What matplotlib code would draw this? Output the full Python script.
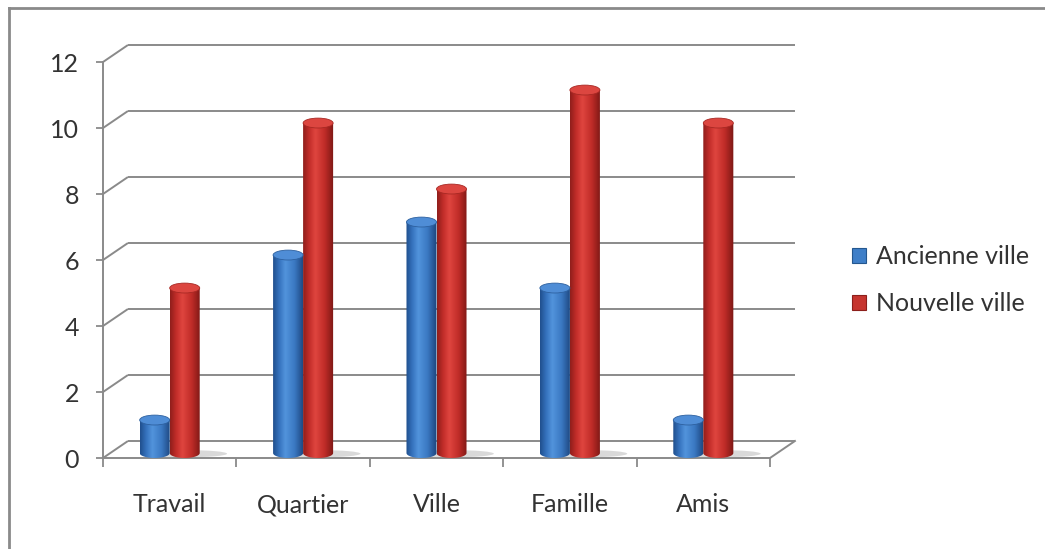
import numpy as np
import matplotlib
matplotlib.use("Agg")
import matplotlib.pyplot as plt
from matplotlib.patches import Ellipse, PathPatch, Patch
from matplotlib.path import Path
from matplotlib.colors import LinearSegmentedColormap
from matplotlib.lines import Line2D

categories = ["Travail", "Quartier", "Ville", "Famille", "Amis"]
ancienne_ville = [1, 6, 7, 5, 1]
nouvelle_ville = [5, 10, 8, 11, 10]
series_names = ["Ancienne ville", "Nouvelle ville"]
y_ticks = [0, 2, 4, 6, 8, 10, 12]

plt.rcParams["font.family"] = ["Lato", "DejaVu Sans"]
TEXT = "#333333"
GRID = "#8a8a8a"
FS = 18

fig = plt.figure(figsize=(10.45, 5.49), dpi=100)
fig.patch.set_facecolor("white")
ax = fig.add_axes([103 / 1045, 91 / 549, 667 / 1045, 396 / 549])
n = len(categories)
ax.set_xlim(0, n)
ax.set_ylim(0, 12)

# depth of the box (back wall offset) in data units
DX, DY = 0.187, 0.515

# back-wall gridlines and the diagonals joining them to the front axis
for v in y_ticks:
    ax.plot([0, DX], [v, v + DY], color=GRID, lw=1.4, clip_on=False, zorder=1,
            solid_capstyle="butt")
    ax.plot([DX, n + DX], [v + DY, v + DY], color=GRID, lw=1.4, clip_on=False,
            zorder=1, solid_capstyle="butt")
ax.plot([n, n + DX], [0, DY], color=GRID, lw=1.4, clip_on=False, zorder=1)

blue_cmap = LinearSegmentedColormap.from_list(
    "blue_cyl",
    [(0.0, "#1f4e8c"), (0.2, "#3572bd"), (0.4, "#5294dc"), (0.7, "#3a78c2"), (1.0, "#1c447c")])
red_cmap = LinearSegmentedColormap.from_list(
    "red_cyl",
    [(0.0, "#8e1e1b"), (0.2, "#c22d29"), (0.4, "#df453f"), (0.7, "#c02c28"), (1.0, "#7a1714")])

BAR_W = 0.225
BASE = 0.15
ELL_H = 0.3
grad = np.linspace(0, 1, 256).reshape(1, -1)


def cylinder(xc, value, cmap, top_color, edge):
    x0, x1 = xc - BAR_W / 2, xc + BAR_W / 2
    top = BASE + value
    ry = ELL_H / 2
    t = np.linspace(np.pi, 2 * np.pi, 40)
    arc = list(zip(xc + BAR_W / 2 * np.cos(t), BASE + ry * np.sin(t)))
    verts = [(x0, top)] + arc + [(x1, top), (x0, top)]
    codes = [Path.MOVETO] + [Path.LINETO] * (len(verts) - 2) + [Path.CLOSEPOLY]
    body = PathPatch(Path(verts, codes), facecolor="none", edgecolor="none")
    ax.add_patch(body)
    img = ax.imshow(grad, extent=(x0, x1, BASE - ry, top), cmap=cmap,
                    aspect="auto", origin="lower", zorder=3,
                    interpolation="bicubic")
    img.set_clip_path(body)
    ax.add_patch(Ellipse((xc, top), BAR_W, ELL_H, facecolor=top_color,
                         edgecolor=edge, lw=0.6, zorder=4))


offset = BAR_W / 2
for i in range(n):
    xc = i + 0.5
    # soft floor shadow under each pair
    ax.add_patch(Ellipse((xc + 0.12, BASE - 0.02), 0.62, 0.22,
                         facecolor="#b5b5b5", edgecolor="none", alpha=0.5, zorder=2))
    cylinder(xc - offset, ancienne_ville[i], blue_cmap, "#4f8dd6", "#2d609f")
    cylinder(xc + offset, nouvelle_ville[i], red_cmap, "#dc4640", "#a72823")

ax.set_xlim(0, n)
ax.set_ylim(0, 12)

# axes, ticks and labels
for side in ("top", "right"):
    ax.spines[side].set_visible(False)
for side in ("left", "bottom"):
    ax.spines[side].set_color(GRID)
    ax.spines[side].set_linewidth(1.4)

ax.set_yticks(y_ticks)
ax.set_yticklabels([str(v) for v in y_ticks])
ax.tick_params(axis="y", length=5.3, width=1.3, color=GRID, pad=12,
               labelsize=FS, labelcolor=TEXT, direction="out")

ax.set_xticks(range(n + 1))
ax.set_xticklabels([])
ax.tick_params(axis="x", which="major", length=6.5, width=1.3, color=GRID)

# category names on a common baseline below the floor
for i, name in enumerate(categories):
    ax.annotate(name, xy=(i + 0.5, 0), xycoords=("data", "axes fraction"),
                xytext=(0, -38.9), textcoords="offset points",
                ha="center", va="baseline", fontsize=FS, color=TEXT,
                annotation_clip=False)
ax.set_facecolor("none")

handles = [Patch(facecolor="#3f7fc8", edgecolor="#24578f", lw=0.8),
           Patch(facecolor="#c6352f", edgecolor="#8c1f1b", lw=0.8)]
fig.legend(handles, series_names, loc="center left",
           bbox_to_anchor=(852 / 1045, 1 - 280 / 549), frameon=False,
           fontsize=FS, handlelength=0.55, handleheight=0.55,
           handletextpad=0.4, labelspacing=0.95, borderpad=0,
           borderaxespad=0, labelcolor=TEXT)

# chart-area frame (top and left edges)
fig.add_artist(Line2D([9 / 1045, 1], [1 - 8 / 549, 1 - 8 / 549],
                      transform=fig.transFigure, color="#8a8a8a", lw=2))
fig.add_artist(Line2D([9 / 1045, 9 / 1045], [0, 1 - 8 / 549],
                      transform=fig.transFigure, color="#8a8a8a", lw=2))

fig.savefig("out.png", dpi=100)
